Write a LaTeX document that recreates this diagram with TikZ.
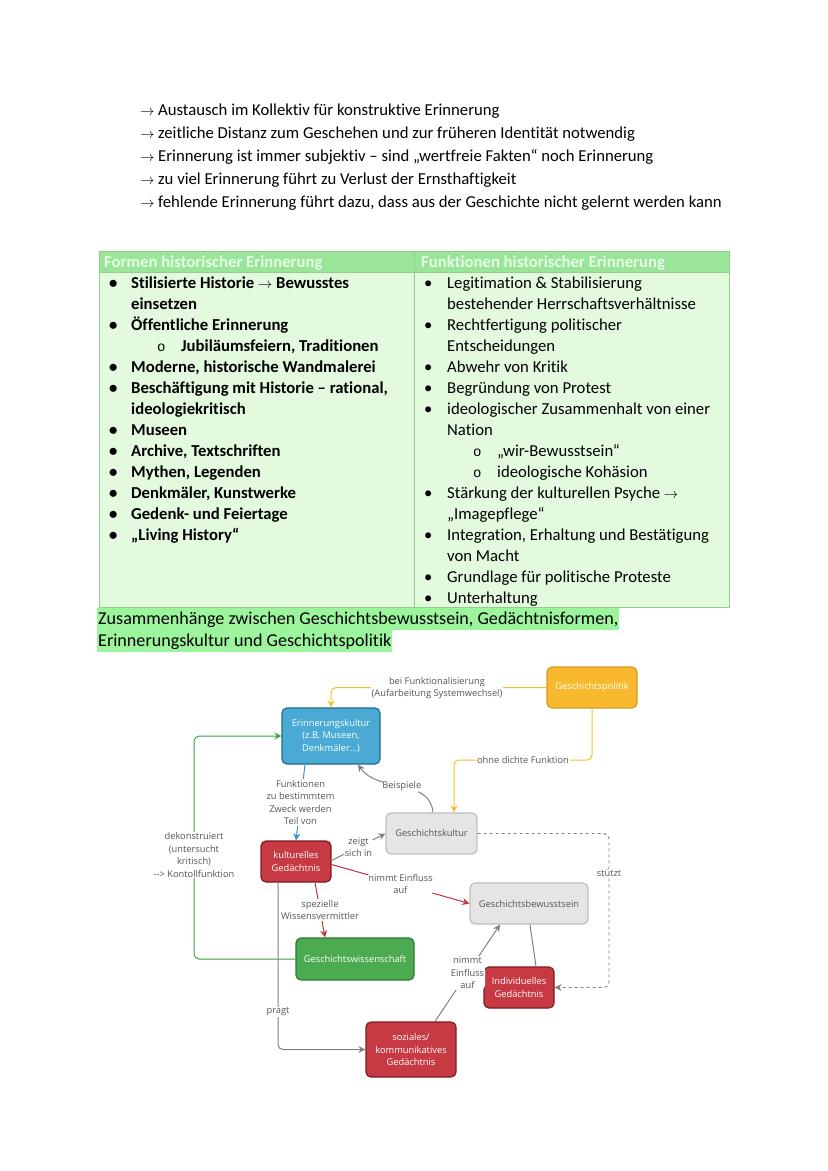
\documentclass[tikz,border=0pt]{standalone}
\usepackage{fontspec}
\setmainfont{Carlito}[Ligatures=NoCommon]
\newfontfamily\osans{Open Sans}
\newfontfamily\cmono{Liberation Mono}
\usetikzlibrary{arrows.meta,calc}
\definecolor{hdrgreen}{HTML}{9BE59A}
\definecolor{bodygreen}{HTML}{E3FADF}
\definecolor{tblborder}{HTML}{8FD08A}
\definecolor{hlgreen}{HTML}{9CF59C}
\definecolor{gpfill}{HTML}{F8B92E}
\definecolor{gpdraw}{HTML}{D69C22}
\definecolor{ekfill}{HTML}{4AAAD4}
\definecolor{ekdraw}{HTML}{1F6A8C}
\definecolor{redfill}{HTML}{C73A44}
\definecolor{reddraw}{HTML}{7A1C22}
\definecolor{grayfill}{HTML}{E7E4E7}
\definecolor{graydraw}{HTML}{C2BEC2}
\definecolor{gwfill}{HTML}{4CAA50}
\definecolor{gwdraw}{HTML}{2C7A30}
\definecolor{ylw}{HTML}{F5C12E}
\definecolor{lnred}{HTML}{C0343C}
\definecolor{lngreen}{HTML}{3DA046}
\definecolor{lnblue}{HTML}{3C8FD8}
\definecolor{lngray}{HTML}{808080}
\definecolor{dgray}{HTML}{555555}
\newcommand\tfont{\fontsize{16.7}{20}\selectfont}
\newcommand\hfont{\fontsize{18.1}{22}\selectfont}
\newcommand\dfont{\osans\fontsize{9.3}{12.5}\selectfont}
\newcommand\subo{\cmono\fontsize{14}{16}\selectfont o}
\newcommand\smarrow{{\fontsize{15}{17}\selectfont$\rightarrow$}}
\begin{document}
\begin{tikzpicture}[x=1pt,y=-1pt,
  tb/.style={anchor=base west, inner sep=0pt, font=\tfont},
  tbb/.style={tb, font=\tfont\bfseries},
  box/.style={rounded corners=5pt, line width=1.2pt, align=center, inner sep=0pt, font=\dfont, text=white},
  graybox/.style={box, fill=grayfill, draw=graydraw, text=dgray},
  redbox/.style={box, fill=redfill, draw=reddraw},
  lbl/.style={fill=white, inner sep=1pt, align=center, font=\dfont, text=dgray},
  conn/.style={line width=1pt, rounded corners=5pt},
  arr/.style={conn, -{Stealth[length=7pt,width=7pt]}},
  hl/.style={anchor=base west, inner xsep=1pt, inner ysep=0pt, text height=16pt, text depth=6pt, fill=hlgreen, font=\hfont},
]
\useasboundingbox (0,0) rectangle (828,1171);
\fill[white] (0,0) rectangle (828,1171);

% top arrow lines
\node[tb] (t1) at (140,115) {\makebox[18pt][l]{\smarrow}Austausch im Kollektiv für konstruktive Erinnerung};
\node[tb] (t2) at (140,138) {\makebox[18pt][l]{\smarrow}zeitliche Distanz zum Geschehen und zur früheren Identität notwendig};
\node[tb] (t3) at (140,161) {\makebox[18pt][l]{\smarrow}Erinnerung ist immer subjektiv – sind „wertfreie Fakten“ noch Erinnerung};
\node[tb] (t4) at (140,184) {\makebox[18pt][l]{\smarrow}zu viel Erinnerung führt zu Verlust der Ernsthaftigkeit};
\node[tb] (t5) at (140,207) {\makebox[18pt][l]{\smarrow}fehlende Erinnerung führt dazu, dass aus der Geschichte nicht gelernt werden kann};

% table
\fill[bodygreen] (99,251) rectangle (729,607);
\fill[hdrgreen] (99,251) rectangle (729,272);
\draw[tblborder, line width=0.8pt] (99,251) rectangle (729,607);
\draw[tblborder, line width=0.8pt] (414,251) -- (414,607);
\draw[tblborder, line width=0.8pt] (99,272) -- (729,272);
\node[tbb, text=white!90!green] (h1) at (104,267) {Formen historischer Erinnerung};
\node[tbb, text=white!90!green] (h2) at (421,267) {Funktionen historischer Erinnerung};

% left column
\node[tbb] (l0) at (109,288) {\makebox[22pt][l]{\textbullet}Stilisierte Historie \smarrow\ Bewusstes};
\node[tbb] (l1) at (131,309) {einsetzen};
\node[tbb] (l2) at (109,330) {\makebox[22pt][l]{\textbullet}Öffentliche Erinnerung};
\node[tbb] (l3) at (157,351) {\makebox[24pt][l]{\mdseries\subo}Jubiläumsfeiern, Traditionen};
\node[tbb] (l4) at (109,372) {\makebox[22pt][l]{\textbullet}Moderne, historische Wandmalerei};
\node[tbb] (l5) at (109,393) {\makebox[22pt][l]{\textbullet}Beschäftigung mit Historie – rational,};
\node[tbb] (l6) at (131,414) {ideologiekritisch};
\node[tbb] (l7) at (109,435) {\makebox[22pt][l]{\textbullet}Museen};
\node[tbb] (l8) at (109,456) {\makebox[22pt][l]{\textbullet}Archive, Textschriften};
\node[tbb] (l9) at (109,477) {\makebox[22pt][l]{\textbullet}Mythen, Legenden};
\node[tbb] (l10) at (109,498) {\makebox[22pt][l]{\textbullet}Denkmäler, Kunstwerke};
\node[tbb] (l11) at (109,519) {\makebox[22pt][l]{\textbullet}Gedenk- und Feiertage};
\node[tbb] (l12) at (109,540) {\makebox[22pt][l]{\textbullet}„Living History“};

% right column
\node[tb] (r0) at (424,288) {\makebox[23pt][l]{\textbullet}Legitimation \& Stabilisierung};
\node[tb] (r1) at (447,309) {bestehender Herrschaftsverhältnisse};
\node[tb] (r2) at (424,330) {\makebox[23pt][l]{\textbullet}Rechtfertigung politischer};
\node[tb] (r3) at (447,351) {Entscheidungen};
\node[tb] (r4) at (424,372) {\makebox[23pt][l]{\textbullet}Abwehr von Kritik};
\node[tb] (r5) at (424,393) {\makebox[23pt][l]{\textbullet}Begründung von Protest};
\node[tb] (r6) at (424,414) {\makebox[23pt][l]{\textbullet}ideologischer Zusammenhalt von einer};
\node[tb] (r7) at (447,435) {Nation};
\node[tb] (r8) at (473,456) {\makebox[24pt][l]{\subo}„wir-Bewusstsein“};
\node[tb] (r9) at (473,477) {\makebox[24pt][l]{\subo}ideologische Kohäsion};
\node[tb] (r10) at (424,498) {\makebox[23pt][l]{\textbullet}Stärkung der kulturellen Psyche \smarrow};
\node[tb] (r11) at (447,519) {„Imagepflege“};
\node[tb] (r12) at (424,540) {\makebox[23pt][l]{\textbullet}Integration, Erhaltung und Bestätigung};
\node[tb] (r13) at (447,561) {von Macht};
\node[tb] (r14) at (424,582) {\makebox[23pt][l]{\textbullet}Grundlage für politische Proteste};
\node[tb] (r15) at (424,603) {\makebox[23pt][l]{\textbullet}Unterhaltung};

% heading with highlight
\node[hl] (z1) at (97,624) {Zusammenhänge zwischen Geschichtsbewusstsein, Gedächtnisformen,};
\node[hl] (z2) at (97,646) {Erinnerungskultur und Geschichtspolitik};

% diagram boxes
\node[box, fill=gpfill, draw=gpdraw, minimum width=90pt, minimum height=41pt] (gp) at (592,687.5) {Geschichtspolitik};
\node[box, fill=ekfill, draw=ekdraw, minimum width=98pt, minimum height=56pt] (ek) at (331,736) {Erinnerungskultur\\(z.B. Museen,\\Denkmäler...)};
\node[graybox, minimum width=91pt, minimum height=41pt] (gk) at (431.5,833.5) {Geschichtskultur};
\node[redbox, minimum width=70pt, minimum height=41pt] (kg) at (296,861.5) {kulturelles\\Gedächtnis};
\node[graybox, minimum width=118pt, minimum height=41pt] (gb) at (529,903.5) {Geschichtsbewusstsein};
\node[box, fill=gwfill, draw=gwdraw, minimum width=118pt, minimum height=42pt] (gw) at (355,959) {Geschichtswissenschaft};
\node[redbox, minimum width=70pt, minimum height=41pt] (ig) at (519,987.5) {Individuelles\\Gedächtnis};
\node[redbox, minimum width=90pt, minimum height=55pt] (sg) at (411,1049.5) {soziales/\\kommunikatives\\Gedächtnis};

% connectors
\draw[arr, ylw] (gp.west) -| (ek.north);
\node[lbl] (lb1) at (437,688) {bei Funktionalisierung\\(Aufarbeitung Systemwechsel)};

\draw[arr, ylw] (gp.south) |- (523,760) -| ([xshift=22.5pt]gk.north);
\node[lbl] (lb2) at (523,760) {ohne dichte Funktion};

\draw[arr, lngray] ([xshift=1.5pt]gk.north) to[out=95,in=-55] node[lbl, pos=0.5] (lb3) {Beispiele} ([xshift=27pt]ek.south);

\draw[arr, lnblue] ([xshift=-26pt]ek.south) -- node[lbl] (lb4) {Funktionen\\zu bestimmtem\\Zweck werden\\Teil von} (kg.north);

\draw[arr, lngray] ([yshift=1pt]kg.east) -- node[lbl] (lb5) {zeigt\\sich in} (gk.west);

\draw[arr, lnred] ([yshift=-3pt]kg.east) -- node[lbl, pos=0.5] (lb6) {nimmt Einfluss\\auf} (gb.west);

\draw[arr, lnred] ([xshift=19pt]kg.south) -- node[lbl] (lb7) {spezielle\\Wissensvermittler} ([xshift=-30pt]gw.north);

\draw[arr, lngreen] (gw.west) -| (194,800) |- (ek.west);
\node[lbl] (lb8) at (194,855) {dekonstruiert\\(untersucht\\kritisch)\\--> Kontollfunktion};

\draw[arr, lngray] ([xshift=-18pt]kg.south) |- (sg.west);
\node[lbl] (lb9) at (278,1011) {prägt};

\draw[arr, lngray] ([xshift=24pt]sg.north) -- node[lbl] (lb10) {nimmt\\Einfluss\\auf} ([xshift=-29pt]gb.south);

\draw[conn, lngray] ([xshift=17pt]ig.north) -- ([xshift=1pt]gb.south);

\draw[arr, lngray, dashed, line width=0.9pt] (gk.east) -| (609,900) |- (ig.east);
\node[lbl] (lb11) at (609,873) {stützt};
\end{tikzpicture}
\end{document}
